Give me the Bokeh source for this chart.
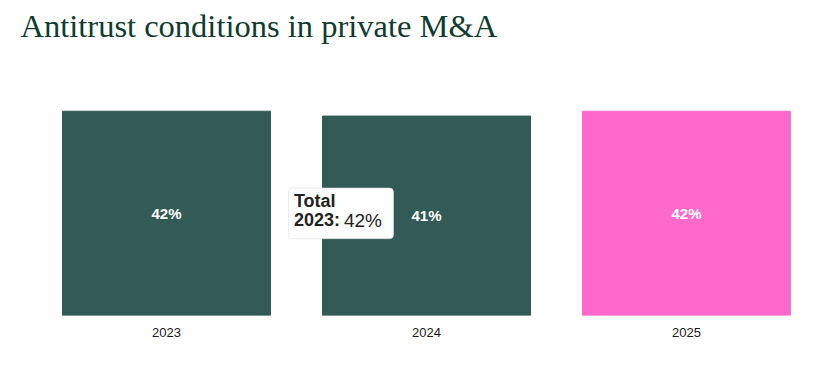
from bokeh.plotting import figure
from bokeh.models import ColumnDataSource, FactorRange, Range1d, BoxAnnotation, Label
from bokeh.embed import file_html
from bokeh.resources import INLINE
from bokeh.core.properties import value

years = ["2023", "2024", "2025"]
shares = [42, 41, 42]
colors = ["#335b55", "#335b55", "#ff69cc"]
labels = [f"{v}%" for v in shares]

src = ColumnDataSource(dict(year=years, share=shares, color=colors,
                            label=labels, mid=[v / 2 for v in shares]))

p = figure(x_range=FactorRange(*years, range_padding=0), y_range=Range1d(0, 54.9),
           width=816, height=339, output_backend="svg", toolbar_location=None,
           title="Antitrust conditions in private M&A",
           min_border_left=36, min_border_right=0, min_border_bottom=0)

p.vbar(x="year", top="share", width=0.8, color="color", source=src)
p.text(x="year", y="mid", text="label", source=src, text_color="white",
       text_font=value("Liberation Sans"), text_font_style="bold",
       text_font_size="15px", text_align="center", text_baseline="middle")

# hover tooltip shown in the reference
p.add_layout(BoxAnnotation(left=0.969, right=1.373, bottom=15.8, top=26.2,
                           fill_color="white", fill_alpha=1, line_color="#dddddd",
                           line_alpha=0.6, border_radius=4, level="overlay"))
p.add_layout(Label(x=0.99, y=25.5, text="Total", text_font="Liberation Sans",
                   text_font_style="bold", text_font_size="18px", text_color="#222222",
                   text_baseline="top", level="overlay"))
p.add_layout(Label(x=0.99, y=21.6, text="2023:", text_font="Liberation Sans",
                   text_font_style="bold", text_font_size="18px", text_color="#222222",
                   text_baseline="top", level="overlay"))
p.add_layout(Label(x=0.99, y=21.6, x_offset=50, text="42%", text_font="Liberation Sans",
                   text_font_size="19px", text_color="#222222",
                   text_baseline="top", level="overlay"))

p.title.text_font = "Liberation Serif"
p.title.text_font_size = "32.5px"
p.title.text_font_style = "normal"
p.title.text_color = "#0f3b30"
p.title.offset = -16

p.yaxis.visible = False
p.xaxis.axis_line_color = None
p.xaxis.major_tick_line_color = None
p.xaxis.minor_tick_line_color = None
p.xaxis.major_label_text_font = "Liberation Sans"
p.xaxis.major_label_text_font_size = "13px"
p.xaxis.major_label_text_color = "#1a1a1a"
p.xaxis.major_label_standoff = 6
p.xgrid.visible = False
p.ygrid.visible = False
p.outline_line_color = None

open("out.html", "w").write(file_html(p, INLINE))
